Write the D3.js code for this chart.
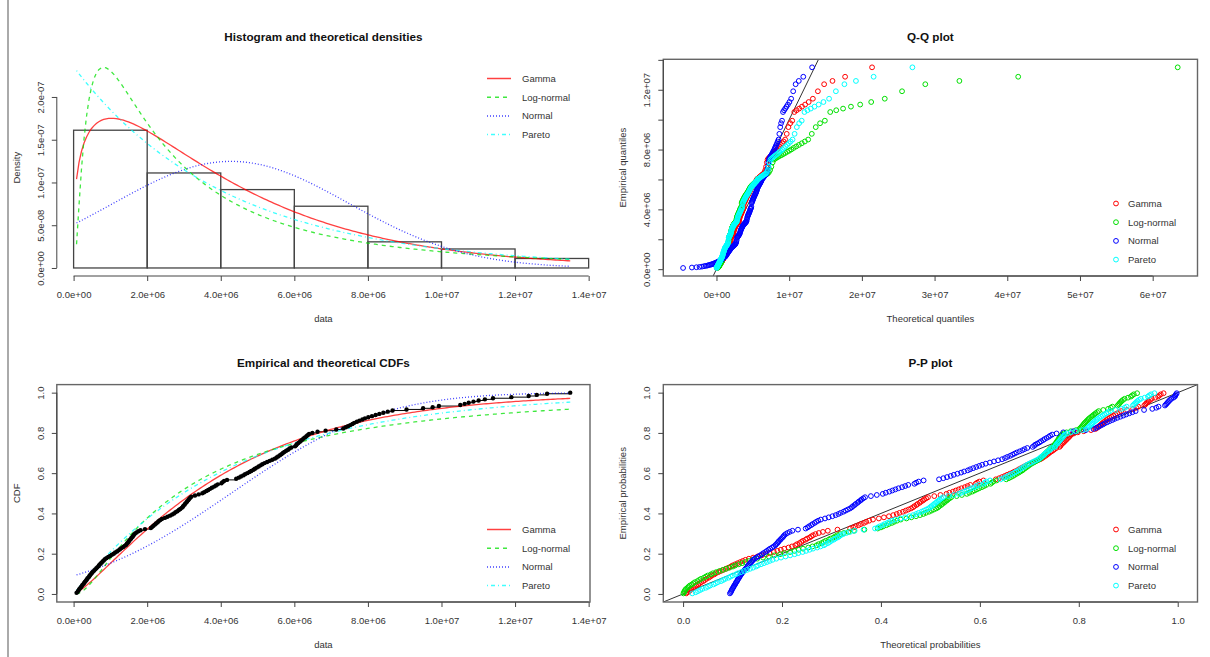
<!DOCTYPE html>
<html>
<head>
<meta charset="utf-8">
<script src="https://cdn.jsdelivr.net/npm/d3@7"></script>
<style>
  body { margin: 0; background: #fff; }
  svg { display: block; font-family: "Liberation Sans", Arial, sans-serif; }
</style>
</head>
<body>
<svg id="chart" width="1210" height="657"></svg>
<script>
const sampleM = [
  0.08, 0.11, 0.13, 0.15, 0.17, 0.2, 0.22, 0.24, 0.27, 0.29,
  0.31, 0.34, 0.36, 0.38, 0.41, 0.43, 0.45, 0.48, 0.5, 0.53,
  0.56, 0.59, 0.62, 0.65, 0.68, 0.7, 0.73, 0.76, 0.79, 0.82,
  0.85, 0.89, 0.94, 0.99, 1.04, 1.09, 1.13, 1.18, 1.22, 1.26,
  1.3, 1.35, 1.39, 1.43, 1.45, 1.48, 1.5, 1.52, 1.55, 1.57,
  1.6, 1.62, 1.64, 1.67, 1.71, 1.76, 1.82, 1.94,
  2.1, 2.14, 2.17, 2.21, 2.24, 2.28, 2.31, 2.35, 2.4, 2.48,
  2.55, 2.62, 2.68, 2.73, 2.77, 2.82, 2.86, 2.9, 2.94, 2.97,
  2.99, 3.02, 3.04, 3.07, 3.09, 3.12, 3.14, 3.17, 3.2, 3.3,
  3.4, 3.5, 3.55, 3.61, 3.66, 3.71, 3.76, 3.82, 3.87, 3.92,
  4.02, 4.05, 4.09, 4.17, 4.42, 4.49, 4.55, 4.61, 4.66, 4.72,
  4.78, 4.83, 4.89, 4.93, 4.98, 5.03, 5.08, 5.13, 5.19, 5.26,
  5.33, 5.4, 5.47, 5.52, 5.56, 5.61, 5.65, 5.69, 5.73, 5.78,
  5.83, 5.87, 5.92,
  6.02, 6.05, 6.07, 6.11, 6.15, 6.18, 6.22, 6.25, 6.29, 6.33,
  6.36, 6.4, 6.49, 6.63, 6.85, 7.14, 7.33, 7.4, 7.46, 7.52,
  7.58, 7.63, 7.7, 7.77, 7.85, 7.92,
  8.01, 8.11, 8.21, 8.31, 8.42, 8.54, 8.67, 9.05, 9.5, 9.76, 9.93,
  10.51, 10.63, 10.74, 10.87, 11.01, 11.18, 11.4, 11.9,
  12.37, 12.59, 12.87, 13.5
];

const distNames = ["Gamma", "Log-normal", "Normal", "Pareto"];
const distColors = ["#ff0000", "#00e000", "#0000ff", "#00ffff"];
const distDash = [null, "4,4", "1,2", "1,3,4,3"];

// fitted parameters (estimated from the curves in the picture)
const gammaShape = 1.32, gammaRate = 3.106e-7;
const lnormMeanlog = 14.86, lnormSdlog = 1.12;
const normMean = 4.28e6, normSd = 3.2e6;
const paretoShape = 40, paretoScale = 1.7e8;

const histBreaks = [0, 2e6, 4e6, 6e6, 8e6, 1e7, 1.2e7, 1.4e7];
const dataTicks = [0, 2e6, 4e6, 6e6, 8e6, 1e7, 1.2e7, 1.4e7];
const dataTickLabels = ["0.0e+00", "2.0e+06", "4.0e+06", "6.0e+06", "8.0e+06", "1.0e+07", "1.2e+07", "1.4e+07"];
const densTicks = [0, 5e-8, 1e-7, 1.5e-7, 2e-7];
const densTickLabels = ["0.0e+00", "5.0e-08", "1.0e-07", "1.5e-07", "2.0e-07"];
const qqXTicks = [0, 1e7, 2e7, 3e7, 4e7, 5e7, 6e7];
const qqXTickLabels = ["0e+00", "1e+07", "2e+07", "3e+07", "4e+07", "5e+07", "6e+07"];
const qqYTicks = [0, 2e6, 4e6, 6e6, 8e6, 1e7, 1.2e7, 1.4e7];
const qqYTickLabels = ["0.0e+00", "", "4.0e+06", "", "8.0e+06", "", "1.2e+07", ""];
const probTicks = [0, 0.2, 0.4, 0.6, 0.8, 1];
const probTickLabels = ["0.0", "0.2", "0.4", "0.6", "0.8", "1.0"];

// ---------- distribution helpers ----------
function lgamma(x) {
  const c = [0.99999999999980993, 676.5203681218851, -1259.1392167224028, 771.32342877765313,
    -176.61502916214059, 12.507343278686905, -0.13857109526572012, 9.9843695780195716e-6, 1.5056327351493116e-7];
  if (x < 0.5) return Math.log(Math.PI / Math.sin(Math.PI * x)) - lgamma(1 - x);
  x -= 1;
  let a = c[0];
  const t = x + 7.5;
  for (let i = 1; i < 9; i++) a += c[i] / (x + i);
  return 0.5 * Math.log(2 * Math.PI) + (x + 0.5) * Math.log(t) - t + Math.log(a);
}
function pgammaReg(a, x) {
  if (x <= 0) return 0;
  const lead = Math.exp(-x + a * Math.log(x) - lgamma(a));
  if (x < a + 1) {
    let ap = a, del = 1 / a, sum = del;
    for (let k = 0; k < 300; k++) { ap += 1; del *= x / ap; sum += del; if (Math.abs(del) < Math.abs(sum) * 1e-13) break; }
    return sum * lead;
  }
  let b = x + 1 - a, c = 1e300, d = 1 / b, h = d;
  for (let i = 1; i < 300; i++) {
    const an = -i * (i - a);
    b += 2;
    d = an * d + b; if (Math.abs(d) < 1e-300) d = 1e-300;
    c = b + an / c; if (Math.abs(c) < 1e-300) c = 1e-300;
    d = 1 / d;
    const del = d * c; h *= del;
    if (Math.abs(del - 1) < 1e-13) break;
  }
  return 1 - lead * h;
}
function erfc(x) {
  const z = Math.abs(x), t = 1 / (1 + 0.5 * z);
  const r = t * Math.exp(-z * z - 1.26551223 + t * (1.00002368 + t * (0.37409196 + t * (0.09678418 +
    t * (-0.18628806 + t * (0.27886807 + t * (-1.13520398 + t * (1.48851587 + t * (-0.82215223 + t * 0.17087277)))))))));
  return x >= 0 ? r : 2 - r;
}
const pnorm01 = z => 0.5 * erfc(-z / Math.SQRT2);
function qnorm01(p) {
  const a = [-3.969683028665376e+01, 2.209460984245205e+02, -2.759285104469687e+02, 1.383577518672690e+02, -3.066479806614716e+01, 2.506628277459239e+00];
  const b = [-5.447609879822406e+01, 1.615858368580409e+02, -1.556989798598866e+02, 6.680131188771972e+01, -1.328068155288572e+01];
  const c = [-7.784894002430293e-03, -3.223964580411365e-01, -2.400758277161838e+00, -2.549732539343734e+00, 4.374664141464968e+00, 2.938163982698783e+00];
  const d = [7.784695709041462e-03, 3.224671290700398e-01, 2.445134137142996e+00, 3.754408661907416e+00];
  const pl = 0.02425;
  if (p < pl) {
    const q = Math.sqrt(-2 * Math.log(p));
    return (((((c[0] * q + c[1]) * q + c[2]) * q + c[3]) * q + c[4]) * q + c[5]) / ((((d[0] * q + d[1]) * q + d[2]) * q + d[3]) * q + 1);
  }
  if (p > 1 - pl) return -qnorm01(1 - p);
  const q = p - 0.5, r = q * q;
  return (((((a[0] * r + a[1]) * r + a[2]) * r + a[3]) * r + a[4]) * r + a[5]) * q / (((((b[0] * r + b[1]) * r + b[2]) * r + b[3]) * r + b[4]) * r + 1);
}

const dists = [
  { // Gamma
    d: x => Math.exp((gammaShape - 1) * Math.log(x) - gammaRate * x + gammaShape * Math.log(gammaRate) - lgamma(gammaShape)),
    p: x => pgammaReg(gammaShape, gammaRate * x),
    q: pr => { let lo = 0, hi = 1e9; for (let i = 0; i < 100; i++) { const m = (lo + hi) / 2; if (pgammaReg(gammaShape, gammaRate * m) < pr) lo = m; else hi = m; } return (lo + hi) / 2; }
  },
  { // Log-normal
    d: x => Math.exp(-Math.pow(Math.log(x) - lnormMeanlog, 2) / (2 * lnormSdlog * lnormSdlog)) / (x * lnormSdlog * Math.sqrt(2 * Math.PI)),
    p: x => pnorm01((Math.log(x) - lnormMeanlog) / lnormSdlog),
    q: pr => Math.exp(lnormMeanlog + lnormSdlog * qnorm01(pr))
  },
  { // Normal
    d: x => Math.exp(-Math.pow((x - normMean) / normSd, 2) / 2) / (normSd * Math.sqrt(2 * Math.PI)),
    p: x => pnorm01((x - normMean) / normSd),
    q: pr => normMean + normSd * qnorm01(pr)
  },
  { // Pareto
    d: x => paretoShape / paretoScale * Math.pow(paretoScale / (x + paretoScale), paretoShape + 1),
    p: x => 1 - Math.pow(paretoScale / (x + paretoScale), paretoShape),
    q: pr => paretoScale * (Math.pow(1 - pr, -1 / paretoShape) - 1)
  }
];

// ---------- derived values ----------
const sample = sampleM.map(v => v * 1e6).sort(d3.ascending);
const n = sample.length;
const [xMin, xMax] = d3.extent(sample);
const ppts = d3.range(n).map(i => (i + 0.5) / n);
const curveX = d3.range(201).map(i => xMin + (xMax - xMin) * i / 200);

// ---------- layout ----------
const svg = d3.select("#chart");
const LX = [56.8, 590], RX = [663.3, 1197.5];
const TY = [276, 59.3], BY = [602, 384.6];
const pad = ([a, b]) => { const s = b - a; return [a - 0.04 * s, b + 0.04 * s]; };
const TXT = "#333";
const CURVE_W = 1.3, CURVE_OP = 0.75;

svg.append("line").attr("x1", 8).attr("x2", 8).attr("y1", 0).attr("y2", 657)
  .attr("stroke", "#aaa").attr("stroke-width", 2);

function clip(id, xr, yr) {
  svg.append("clipPath").attr("id", id).append("rect")
    .attr("x", xr[0]).attr("y", yr[1]).attr("width", xr[1] - xr[0]).attr("height", yr[0] - yr[1]);
}
clip("c1", LX, TY); clip("c2", RX, TY); clip("c3", LX, BY); clip("c4", RX, BY);

function styleAxis(g) {
  g.selectAll("text").attr("font-size", "9.5px").attr("fill", TXT).attr("font-family", "Liberation Sans, Arial, sans-serif");
  g.selectAll("line").attr("stroke", "#444");
}
function bottomAxis(x, y0, ticks, labels) {
  const g = svg.append("g").attr("transform", `translate(0,${y0})`)
    .call(d3.axisBottom(x).tickValues(ticks).tickSize(5).tickSizeOuter(0).tickPadding(10)
      .tickFormat((d, i) => labels[i]));
  g.select(".domain").attr("d", `M${x(ticks[0])},0H${x(ticks[ticks.length - 1])}`).attr("stroke", "#444");
  styleAxis(g);
}
function leftAxis(y, x0, ticks, labels) {
  const g = svg.append("g").attr("transform", `translate(${x0},0)`)
    .call(d3.axisLeft(y).tickValues(ticks).tickSize(5).tickSizeOuter(0)
      .tickFormat((d, i) => labels[i]));
  g.select(".domain").attr("d", `M0,${y(ticks[0])}V${y(ticks[ticks.length - 1])}`).attr("stroke", "#444");
  g.selectAll("text").attr("x", 0).attr("dy", 0).attr("text-anchor", "middle")
    .attr("transform", "translate(-13,0) rotate(-90)");
  styleAxis(g);
}
function frame(xr, yr) {
  svg.append("rect").attr("x", xr[0]).attr("y", yr[1]).attr("width", xr[1] - xr[0]).attr("height", yr[0] - yr[1])
    .attr("fill", "none").attr("stroke", "#666").attr("stroke-width", 1.4);
}
function titles(xr, yr, title, xlab, ylab) {
  const cx = (xr[0] + xr[1]) / 2, cy = (yr[0] + yr[1]) / 2;
  svg.append("text").attr("x", cx).attr("y", yr[1] - 18).attr("text-anchor", "middle")
    .attr("font-size", "11.7px").attr("font-weight", "bold").attr("fill", "#111").text(title);
  svg.append("text").attr("x", cx).attr("y", yr[0] + 46).attr("text-anchor", "middle")
    .attr("font-size", "9.5px").attr("fill", TXT).text(xlab);
  svg.append("text").attr("transform", `translate(${xr[0] - 37},${cy}) rotate(-90)`).attr("text-anchor", "middle")
    .attr("font-size", "9.5px").attr("fill", TXT).text(ylab);
}
function lineLegend(x0, y0) {
  distNames.forEach((name, i) => {
    const y = y0 + i * 18.7;
    svg.append("line").attr("x1", x0).attr("x2", x0 + 24).attr("y1", y).attr("y2", y)
      .attr("stroke", distColors[i]).attr("stroke-width", 1.5).attr("stroke-opacity", CURVE_OP)
      .attr("stroke-dasharray", distDash[i]);
    svg.append("text").attr("x", x0 + 35).attr("y", y).attr("dy", "0.35em")
      .attr("font-size", "9.5px").attr("fill", TXT).text(name);
  });
}
function pointLegend(x0, y0) {
  distNames.forEach((name, i) => {
    const y = y0 + i * 18.7;
    svg.append("circle").attr("cx", x0).attr("cy", y).attr("r", 2.4)
      .attr("fill", "none").attr("stroke", distColors[i]).attr("stroke-width", 1);
    svg.append("text").attr("x", x0 + 12).attr("y", y).attr("dy", "0.35em")
      .attr("font-size", "9.5px").attr("fill", TXT).text(name);
  });
}
function curve(g, path, i) {
  g.append("path").attr("d", path).attr("fill", "none")
    .attr("stroke", distColors[i]).attr("stroke-width", CURVE_W).attr("stroke-opacity", CURVE_OP)
    .attr("stroke-dasharray", distDash[i]);
}

const xData = d3.scaleLinear().domain(pad([xMin, xMax])).range(LX);

// ---------- panel 1: histogram and densities ----------
const bins = d3.bin().domain([histBreaks[0], histBreaks[histBreaks.length - 1]])
  .thresholds(histBreaks.slice(1, -1))(sample);
const densCurves = dists.map(dd => curveX.map(x => [x, dd.d(x)]));
const densMax = d3.max(densCurves.flat(), d => d[1]);
const yDens = d3.scaleLinear().domain(pad([0, densMax])).range(TY);

const p1 = svg.append("g").attr("clip-path", "url(#c1)");
p1.selectAll("rect.bar").data(bins).join("rect").attr("class", "bar")
  .attr("x", d => xData(d.x0)).attr("width", d => xData(d.x1) - xData(d.x0))
  .attr("y", d => yDens(d.length / (n * (d.x1 - d.x0))))
  .attr("height", d => yDens(0) - yDens(d.length / (n * (d.x1 - d.x0))))
  .attr("fill", "none").attr("stroke", "#444").attr("stroke-width", 1.3);
const line1 = d3.line().x(d => xData(d[0])).y(d => yDens(d[1]));
densCurves.forEach((c, i) => curve(p1, line1(c), i));
bottomAxis(xData, TY[0], dataTicks, dataTickLabels);
leftAxis(yDens, LX[0], densTicks, densTickLabels);
titles(LX, TY, "Histogram and theoretical densities", "data", "Density");
lineLegend(487, 78.5);

// ---------- panel 2: Q-Q plot ----------
const qqTheo = dists.map(dd => ppts.map(p => dd.q(p)));
const xQQ = d3.scaleLinear().domain(pad(d3.extent(qqTheo.flat()))).range(RX);
const yQQ = d3.scaleLinear().domain(pad([xMin, xMax])).range(TY);
const p2 = svg.append("g").attr("clip-path", "url(#c2)");
p2.append("line").attr("x1", xQQ(-1e8)).attr("y1", yQQ(-1e8)).attr("x2", xQQ(1e8)).attr("y2", yQQ(1e8))
  .attr("stroke", "#333").attr("stroke-width", 1);
qqTheo.forEach((q, i) => {
  p2.append("g").selectAll("circle").data(q).join("circle")
    .attr("cx", d => xQQ(d)).attr("cy", (d, j) => yQQ(sample[j])).attr("r", 2.4)
    .attr("fill", "none").attr("stroke", distColors[i]).attr("stroke-width", 1);
});
frame(RX, TY);
bottomAxis(xQQ, TY[0], qqXTicks, qqXTickLabels);
leftAxis(yQQ, RX[0], qqYTicks, qqYTickLabels);
titles(RX, TY, "Q-Q plot", "Theoretical quantiles", "Empirical quantiles");
pointLegend(1116, 203.5);

// ---------- panel 3: CDFs ----------
const yCdf = d3.scaleLinear().domain(pad([0, 1])).range(BY);
const p3 = svg.append("g").attr("clip-path", "url(#c3)");
const steps = sample.map((x, i) => [x, i + 1 < n ? sample[i + 1] : x, (i + 1) / n]);
p3.append("g").selectAll("line").data(steps).join("line")
  .attr("x1", d => xData(d[0])).attr("x2", d => xData(d[1]))
  .attr("y1", d => yCdf(d[2])).attr("y2", d => yCdf(d[2]))
  .attr("stroke", "#000").attr("stroke-width", 1);
const line3 = d3.line().x(d => xData(d[0])).y(d => yCdf(d[1]));
dists.forEach((dd, i) => curve(p3, line3(curveX.map(x => [x, dd.p(x)])), i));
p3.append("g").selectAll("circle").data(sample).join("circle")
  .attr("cx", d => xData(d)).attr("cy", (d, i) => yCdf((i + 1) / n)).attr("r", 2.2).attr("fill", "#000");
frame(LX, BY);
bottomAxis(xData, BY[0], dataTicks, dataTickLabels);
leftAxis(yCdf, LX[0], probTicks, probTickLabels);
titles(LX, BY, "Empirical and theoretical CDFs", "data", "CDF");
lineLegend(487, 529.5);

// ---------- panel 4: P-P plot ----------
const xPP = d3.scaleLinear().domain(pad([0, 1])).range(RX);
const yPP = d3.scaleLinear().domain(pad([0, 1])).range(BY);
const p4 = svg.append("g").attr("clip-path", "url(#c4)");
p4.append("line").attr("x1", xPP(-1)).attr("y1", yPP(-1)).attr("x2", xPP(2)).attr("y2", yPP(2))
  .attr("stroke", "#333").attr("stroke-width", 1);
dists.forEach((dd, i) => {
  p4.append("g").selectAll("circle").data(sample).join("circle")
    .attr("cx", d => xPP(dd.p(d))).attr("cy", (d, j) => yPP(ppts[j])).attr("r", 2.4)
    .attr("fill", "none").attr("stroke", distColors[i]).attr("stroke-width", 1);
});
frame(RX, BY);
bottomAxis(xPP, BY[0], probTicks, probTickLabels);
leftAxis(yPP, RX[0], probTicks, probTickLabels);
titles(RX, BY, "P-P plot", "Theoretical probabilities", "Empirical probabilities");
pointLegend(1116, 529.5);
</script>
</body>
</html>
